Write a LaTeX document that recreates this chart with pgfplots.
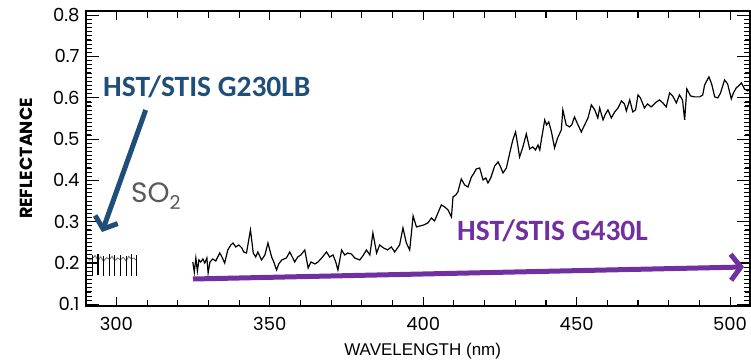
\documentclass[border=0pt]{standalone}
\usepackage{fontspec}
\setmainfont{Poppins}
\newfontfamily\carlito{Carlito}
\newfontfamily\libsans{Liberation Sans}
\usepackage{pgfplots}
\pgfplotsset{compat=1.18}
\usetikzlibrary{arrows.meta}
\definecolor{hstblue}{RGB}{31,78,121}
\definecolor{hstpurple}{RGB}{112,48,160}
\definecolor{sogray}{RGB}{89,89,89}
\begin{document}
\begin{tikzpicture}
\path (0,0) rectangle (751bp,362bp);
\begin{axis}[
  at={(86bp,56bp)}, anchor=south west,
  scale only axis, width=664bp, height=295bp,
  xmin=290.1, xmax=506.5, ymin=0.096, ymax=0.81,
  xtick={300,350,400,450,500}, xticklabels={300,350,400,450,500},
  minor x tick num=4,
  ytick={0.1,0.2,0.3,0.4,0.5,0.6,0.7,0.8},
  yticklabels={0.1,0.2,0.3,0.4,0.5,0.6,0.7,0.8},
  minor y tick num=9,
  axis line style={line width=1.3bp},
  tick style={black, line width=1.1bp},
  major tick length=9bp, minor tick length=5bp,
  x tick label style={font=\fontsize{18bp}{20bp}\selectfont, yshift=-8bp},
  y tick label style={font=\fontsize{18bp}{20bp}\selectfont, xshift=-3bp},
  ylabel={REFLECTANCE},
  ylabel style={at={(axis description cs:-0.09,0.5)}, anchor=center, font=\bfseries\fontsize{17.5bp}{19bp}\selectfont},
  xlabel={WAVELENGTH (nm)},
  xlabel style={at={(axis description cs:0.507,-0.1525)}, anchor=center, font=\libsans\fontsize{17bp}{19bp}\selectfont},
]
% G430L spectrum
\addplot[black, line width=1.2bp] coordinates {
(324.9,0.2025) (325.4,0.1783) (325.9,0.2122) (326.4,0.1807) (326.9,0.2074) (327.5,0.2025) (328.2,0.2098) (328.8,0.2001) (329.5,0.2122) (329.9,0.1759)
(330.5,0.2025) (331.4,0.2098) (332.4,0.2050) (333.7,0.2243) (334.4,0.2146) (335.3,0.2001) (336.3,0.2316) (337.3,0.2437) (338.0,0.2485) (338.9,0.2389)
(339.9,0.2437) (340.9,0.2364) (341.5,0.2268) (342.4,0.2243) (343.7,0.2800) (344.1,0.2558) (344.6,0.2243) (345.4,0.2146) (346.1,0.2268) (347.3,0.2074)
(348.4,0.2195) (349.4,0.2485) (350.6,0.2146) (351.3,0.2025) (352.2,0.1832) (352.9,0.1977) (353.9,0.2074) (355.4,0.2122) (356.5,0.2268) (357.5,0.2122)
(358.1,0.2025) (359.1,0.2146) (360.1,0.2195) (361.4,0.2316) (362.5,0.1880) (363.4,0.2025) (364.7,0.1977) (365.7,0.2025) (366.9,0.2122) (368.5,0.2268)
(369.5,0.2146) (370.6,0.2195) (371.5,0.2025) (372.2,0.1832) (373.4,0.2316) (374.4,0.2195) (375.4,0.2243) (376.6,0.2219) (377.7,0.2122) (379.3,0.2074)
(380.3,0.2171) (381.5,0.2316) (382.6,0.2195) (383.6,0.2728) (384.8,0.2243) (385.8,0.2437) (387.1,0.2364) (388.4,0.2316) (389.6,0.2389) (390.7,0.2268)
(392.3,0.2437) (393.4,0.2849) (394.5,0.2485) (395.6,0.2316) (396.7,0.3139) (397.8,0.2873) (398.9,0.2897) (400.2,0.2921) (401.5,0.2970) (402.7,0.3091)
(403.7,0.3018) (404.8,0.3212) (405.9,0.3406) (407.0,0.3357) (408.1,0.3284) (409.2,0.3115) (409.7,0.3599) (410.6,0.3648) (411.3,0.3720) (412.4,0.4035)
(413.5,0.3890) (414.6,0.3841) (415.7,0.4083) (416.4,0.4156) (417.3,0.4277) (418.4,0.4301) (419.5,0.4011) (420.4,0.4059) (421.1,0.3938) (422.0,0.4059)
(423.3,0.4350) (424.4,0.4447) (425.2,0.4326) (426.0,0.4180) (427.1,0.4301) (428.2,0.4665) (429.2,0.4979) (430.1,0.5173) (430.8,0.4858) (431.4,0.4568)
(432.4,0.4786) (433.6,0.5125) (434.7,0.4761) (435.7,0.4810) (436.6,0.4737) (437.4,0.4858) (438.0,0.4737) (438.5,0.4979) (439.6,0.5464) (440.2,0.5343)
(440.9,0.5415) (441.8,0.5173) (442.8,0.4786) (443.8,0.5028) (445.0,0.5221) (445.5,0.5706) (446.6,0.5343) (447.7,0.5294) (448.4,0.5343) (449.3,0.5536)
(450.3,0.5367) (451.5,0.5173) (452.3,0.5294) (453.7,0.5512) (454.8,0.5827) (455.9,0.5706) (456.9,0.5512) (457.5,0.5754) (458.6,0.5464) (459.4,0.5609)
(460.2,0.5706) (461.3,0.5512) (462.4,0.5657) (463.5,0.5754) (464.6,0.5924) (465.6,0.5851) (466.2,0.5682) (467.3,0.5948) (468.3,0.5657) (469.2,0.5706)
(470.0,0.6069) (470.8,0.5996) (472.1,0.5754) (473.1,0.5851) (474.3,0.5778) (476.0,0.5899) (477.0,0.5948) (478.1,0.5875) (479.2,0.5778) (480.3,0.6117)
(481.3,0.6045) (482.5,0.5875) (483.5,0.6069) (484.5,0.5948) (485.2,0.5464) (485.9,0.6214) (487.1,0.6045) (488.4,0.6021) (490.1,0.6021) (491.1,0.6069)
(491.7,0.6311) (493.1,0.6505) (494.0,0.6335) (495.0,0.6021) (496.0,0.5996) (496.9,0.6117) (498.2,0.6432) (499.2,0.6335) (500.4,0.5972) (501.1,0.6117)
(502.0,0.6238) (502.8,0.6287) (503.7,0.6360) (504.7,0.6214) (505.7,0.6166) (506.5,0.6190)
};
% G230LB segment: gray trace
\addplot[sogray!80, line width=1bp] coordinates {
(290.4,0.214) (291.3,0.207) (292.2,0.211) (293.1,0.218) (294.0,0.206) (294.9,0.215) (295.8,0.204) (296.8,0.213) (297.8,0.209) (298.6,0.216) (299.5,0.206) (300.4,0.212) (301.3,0.208) (302.2,0.214) (303.2,0.205) (304.0,0.216) (304.9,0.210) (305.7,0.212) (306.5,0.207)
};
% G230LB error bars
\addplot[black, mark=none, line width=0pt, draw opacity=0, error bars/.cd, y dir=both, y explicit,
  error bar style={draw=black, draw opacity=1, line width=1.1bp}, error mark=none] coordinates {
(290.4,0.212) += (0,0.010) -= (0,0.042)
(292.2,0.210) += (0,0.010) -= (0,0.042)
(294.0,0.212) += (0,0.010) -= (0,0.042)
(295.8,0.208) += (0,0.010) -= (0,0.040)
(297.8,0.211) += (0,0.010) -= (0,0.042)
(299.5,0.209) += (0,0.010) -= (0,0.040)
(301.3,0.210) += (0,0.010) -= (0,0.042)
(303.2,0.208) += (0,0.010) -= (0,0.040)
(304.9,0.211) += (0,0.010) -= (0,0.042)
(306.5,0.209) += (0,0.010) -= (0,0.041)
};
% axis tick marks (frame decoration)
\pgfplotsinvokeforeach{300,310,...,500}{
  \draw[black, line width=1.1bp] (axis cs:#1,0.096) -- ([yshift=6bp]axis cs:#1,0.096);
  \draw[black, line width=1.1bp] (axis cs:#1,0.81) -- ([yshift=-7bp]axis cs:#1,0.81);
}
\pgfplotsinvokeforeach{300,350,400,450,500}{
  \draw[black, line width=1.1bp] (axis cs:#1,0.096) -- ([yshift=8bp]axis cs:#1,0.096);
}
\pgfplotsinvokeforeach{0.10,0.11,...,0.81}{
  \draw[black, line width=1bp] (axis cs:290.1,#1) -- ([xshift=6bp]axis cs:290.1,#1);
  \draw[black, line width=1bp] (axis cs:506.5,#1) -- ([xshift=-6bp]axis cs:506.5,#1);
}
\pgfplotsinvokeforeach{0.1,0.2,0.3,0.4,0.5,0.6,0.7,0.8}{
  \draw[black, line width=1.1bp] (axis cs:290.1,#1) -- ([xshift=13bp]axis cs:290.1,#1);
  \draw[black, line width=1.1bp] (axis cs:506.5,#1) -- ([xshift=-13bp]axis cs:506.5,#1);
}
\end{axis}
% annotations
\draw[hstblue, line width=5bp, -{Straight Barb[length=10bp,width=24bp]}] (145.7bp,252bp) -- (102bp,130bp);
\draw[hstpurple, line width=5bp, -{Straight Barb[length=10bp,width=26bp]}] (193bp,83bp) -- (744bp,95bp);
\node[anchor=base west, text=hstblue, font=\carlito\bfseries\fontsize{29.5bp}{32bp}\selectfont, inner sep=0pt] at (103bp,266bp) {HST/STIS G230LB};
\node[anchor=base west, text=hstpurple, font=\carlito\bfseries\fontsize{29.5bp}{32bp}\selectfont, inner sep=0pt] at (457bp,122bp) {HST/STIS G430L};
\node[anchor=base west, text=sogray, font=\fontsize{28bp}{30bp}\selectfont, inner sep=0pt] at (131bp,160bp) {SO\raisebox{-7bp}{\fontsize{19bp}{20bp}\selectfont 2}};
\end{tikzpicture}
\end{document}
